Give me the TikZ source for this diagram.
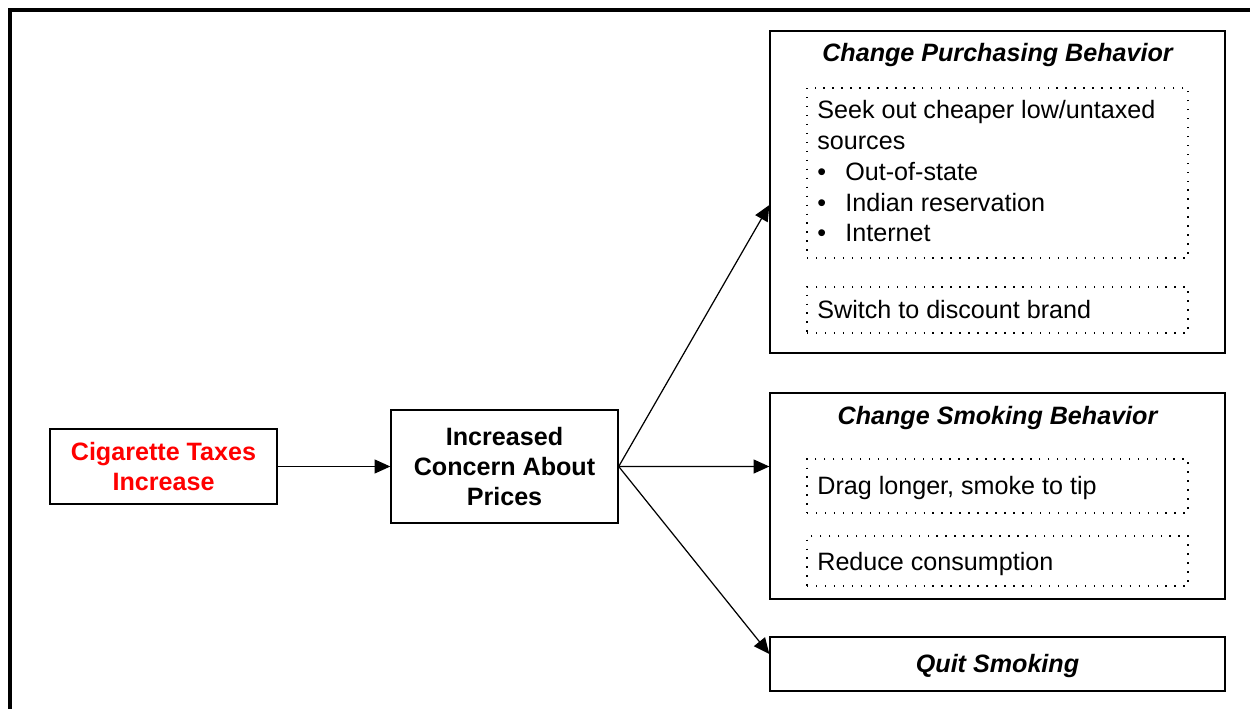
\documentclass[tikz,border=0pt]{standalone}
\usepackage{fontspec}
\setmainfont{Liberation Sans}
\usetikzlibrary{arrows.meta}
\tikzset{
  box/.style={draw, line width=0.8pt, inner sep=0pt},
  dotbox/.style={draw, line width=1pt, dash pattern=on 0.8pt off 4.3pt, inner sep=0pt, minimum width=7.62cm},
  txt/.style={inner sep=0pt, align=left, font=\fontsize{14.3pt}{17.6pt}\selectfont},
  hd/.style={txt, font=\fontsize{14.3pt}{17.6pt}\selectfont\bfseries\itshape},
  arr/.style={line width=0.7pt, -{Triangle[length=9pt,width=8pt]}}
}
\begin{document}
\begin{tikzpicture}[x=0.02cm, y=-0.02cm]
\useasboundingbox (0,0) rectangle (1250,709);
\draw[line width=2.3pt] (10,709) -- (10,10) -- (1250,10); % frame
% boxes
\node[box, minimum width=4.54cm, minimum height=1.5cm] (tax) at (163.5,466.5) {};
\node[box, minimum width=4.54cm, minimum height=2.26cm] (concern) at (504.5,466.5) {};
\node[box, minimum width=9.1cm, minimum height=6.44cm] (purchase) at (997.5,192) {};
\node[box, minimum width=9.1cm, minimum height=4.12cm] (smoking) at (997.5,496) {};
\node[box, minimum width=9.1cm, minimum height=1.08cm] (quit) at (997.5,664) {};
\node[dotbox, minimum height=3.4cm] (sources) at (997.5,173) {};
\node[dotbox, minimum height=0.92cm] (discount) at (997.5,310) {};
\node[dotbox, minimum height=1.08cm] (drag) at (997.5,486) {};
\node[dotbox, minimum height=1cm] (reduce) at (997.5,561) {};
% texts (base = last line)
\node[txt, align=center, anchor=base, text=red, font=\fontsize{14.3pt}{17pt}\selectfont\bfseries] (taxtxt) at (163.5,490) {Cigarette Taxes\\Increase};
\node[txt, align=center, anchor=base, font=\fontsize{14.3pt}{17pt}\selectfont\bfseries] (concerntxt) at (504.5,505) {Increased\\Concern About\\Prices};
\node[hd, anchor=base] (purchasetxt) at (997.5,62) {Change Purchasing Behavior};
\node[hd, anchor=base] (smokingtxt) at (997.5,424) {Change Smoking Behavior};
\node[hd, anchor=base] (quittxt) at (997.5,672) {Quit Smoking};
\node[txt, anchor=base west] (sourcestxt) at (817,242) {Seek out cheaper low/untaxed\\sources\\
  \makebox[0.56cm][l]{\textbullet}Out-of-state\\
  \makebox[0.56cm][l]{\textbullet}Indian reservation\\
  \makebox[0.56cm][l]{\textbullet}Internet};
\node[txt, anchor=base west] (discounttxt) at (817,318) {Switch to discount brand};
\node[txt, anchor=base west] (dragtxt) at (817,494) {Drag longer, smoke to tip};
\node[txt, anchor=base west] (reducetxt) at (817,570) {Reduce consumption};
% arrows
\draw[arr] (tax.east) -- (concern.west);
\draw[arr] (concern.east) -- ([yshift=-0.26cm]purchase.west);
\draw[arr] (concern.east) -- ([yshift=0.59cm]smoking.west);
\draw[arr] (concern.east) -- ([yshift=0.2cm]quit.west);
\end{tikzpicture}
\end{document}
